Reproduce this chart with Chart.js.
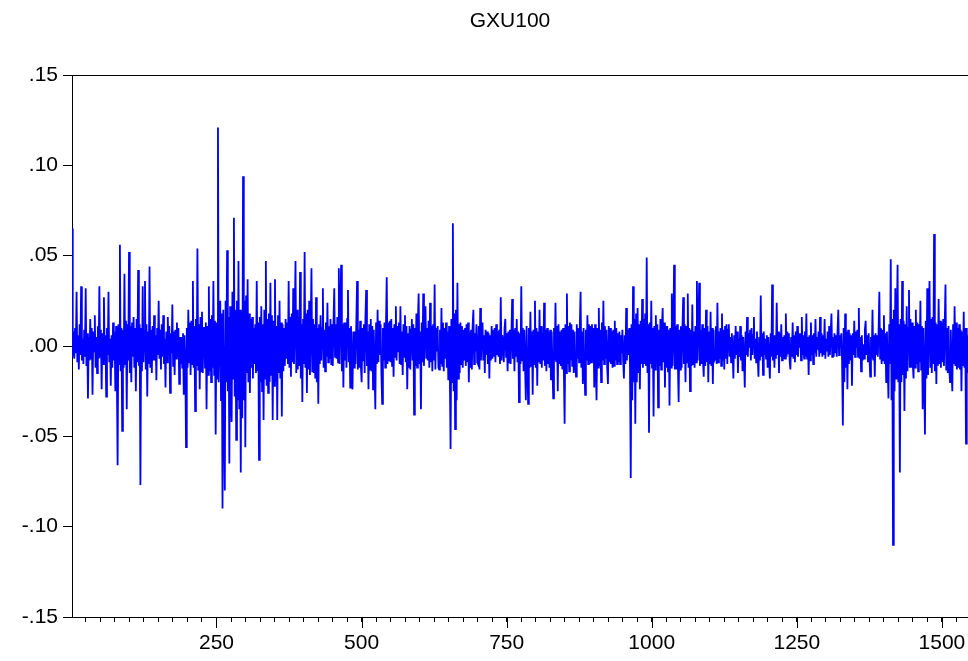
<!DOCTYPE html>
<html>
<head>
<meta charset="utf-8">
<title>GXU100</title>
<script src="https://cdn.jsdelivr.net/npm/chart.js@4.4.1/dist/chart.umd.min.js"></script>
<style>
  html, body { margin: 0; padding: 0; background: #fff; overflow: hidden; }
</style>
</head>
<body>
<canvas id="chart" width="968" height="661"></canvas>
<script>
// values: a peak reading followed by two readings inside the dense band,
// evenly spaced readings (about 1.31 observations apart) starting at obs 1
const seriesName = "GXU100";
const firstObs = 1;
const obsStep = 1.31;

const part1 = [0.065,-0.006,0.008, -0.007,0.010,-0.004, 0.030,-0.009,0.006, -0.013,0.012,-0.005, 0.033,-0.008,0.004, -0.010,0.009,-0.006,
  0.032,-0.011,0.007, -0.029,0.005,-0.008, 0.015,-0.007,0.010, -0.027,0.008,-0.003, 0.017,-0.012,0.005, -0.015,0.011,-0.007,
  0.033,-0.006,0.009, -0.024,0.007,-0.010, 0.027,-0.004,0.006, -0.028,0.010,-0.005, 0.030,-0.009,0.004, -0.022,0.006,-0.012,
  0.013,-0.008,0.008, -0.025,0.011,-0.015, -0.066,0.012,-0.010, 0.056,-0.014,0.010, -0.047,0.009,-0.012, 0.040,-0.010,0.014,
  -0.035,0.012,-0.008, 0.052,-0.015,0.011, -0.020,0.013,-0.006, 0.016,-0.012,0.010, -0.025,0.015,-0.009, 0.042,-0.011,0.012,
  -0.077,0.010,-0.014, 0.033,-0.009,0.006, 0.036,-0.013,0.012, -0.028,0.008,-0.010, 0.044,-0.012,0.009, -0.015,0.011,-0.008];
const part2 = [0.017,-0.008,0.006, -0.019,0.010,-0.005, 0.025,-0.007,0.009, -0.013,0.012,-0.006, 0.017,-0.010,0.004, -0.023,0.008,-0.009,
  0.016,-0.005,0.011, -0.026,0.007,-0.004, 0.023,-0.011,0.008, -0.016,0.009,-0.007, 0.013,-0.006,0.010, -0.021,0.005,-0.010,
  0.005,-0.012,0.007, -0.027,0.006,-0.008, -0.056,0.010,-0.012, 0.020,-0.009,0.013, -0.016,0.014,-0.010, 0.036,-0.012,0.011,
  -0.036,0.015,-0.011, 0.054,-0.013,0.012, -0.024,0.016,-0.014, 0.019,-0.015,0.010, 0.010,-0.012,0.013, -0.035,0.011,-0.016,
  0.033,-0.014,0.015, -0.020,0.017,-0.012, 0.036,-0.016,0.014, -0.049,0.013,-0.018, 0.121,-0.020,0.015, 0.025,-0.030,0.018,
  -0.090,0.020,-0.035, -0.080,0.025,-0.020, 0.053,-0.025,0.016, -0.065,0.022,-0.030, -0.042,0.030,-0.018, 0.071,-0.028,0.020];
const part3 = [-0.052,0.025,-0.030, 0.047,-0.035,0.020, -0.070,0.018,-0.040, 0.094,-0.030,0.025, -0.056,0.028,-0.015, 0.037,-0.020,0.018,
  -0.026,0.015,-0.012, 0.016,-0.018,0.010, -0.010,0.012,-0.015, 0.036,-0.014,0.013, -0.063,0.016,-0.020, 0.022,-0.025,0.012,
  -0.041,0.020,-0.018, 0.047,-0.022,0.015, -0.026,0.018,-0.020, 0.035,-0.016,0.017, -0.041,0.014,-0.022, 0.037,-0.020,0.011,
  -0.041,0.017,-0.015, 0.025,-0.018,0.013, -0.039,0.012,-0.014, 0.010,-0.011,0.015, -0.007,0.013,-0.010, 0.036,-0.012,0.016,
  -0.017,0.018,-0.009, 0.032,-0.010,0.014, 0.047,-0.015,0.020, -0.013,0.016,-0.011, 0.041,-0.018,0.012, -0.031,0.015,-0.010,
  0.052,-0.012,0.018, -0.026,0.020,-0.013, 0.025,-0.016,0.011, 0.043,-0.014,0.015, -0.015,0.012,-0.018, 0.027,-0.020,0.010];
const part4 = [-0.032,0.012,-0.010, 0.017,-0.008,0.010, 0.032,-0.012,0.009, -0.014,0.013,-0.006, 0.024,-0.009,0.011, -0.007,0.015,-0.010,
  0.012,-0.011,0.014, 0.032,-0.006,0.012, -0.007,0.016,-0.009, 0.043,-0.010,0.018, 0.045,-0.014,0.012, -0.023,0.013,-0.008,
  0.013,-0.012,0.015, 0.031,-0.009,0.010, -0.023,0.011,-0.014, -0.024,0.008,-0.012, 0.008,-0.010,0.013, 0.036,-0.013,0.009,
  -0.012,0.014,-0.011, -0.020,0.010,-0.008, 0.012,-0.015,0.016, 0.031,-0.011,0.008, -0.024,0.012,-0.013, 0.015,-0.014,0.011,
  -0.024,0.009,-0.012, -0.035,0.013,-0.010, 0.020,-0.009,0.014, -0.005,0.012,-0.015, -0.032,0.010,-0.008, 0.013,-0.012,0.011,
  0.038,-0.010,0.013, -0.008,0.014,-0.009, 0.015,-0.011,0.010, -0.017,0.012,-0.006, 0.022,-0.008,0.011, -0.003,0.013,-0.010];
const part5 = [0.022,-0.010,0.008, -0.016,0.012,-0.006, 0.017,-0.009,0.011, -0.024,0.007,-0.012, 0.011,-0.013,0.009, 0.015,-0.008,0.012,
  -0.038,0.010,-0.011, 0.018,-0.012,0.014, 0.029,-0.010,0.008, -0.035,0.013,-0.009, 0.029,-0.011,0.012, 0.022,-0.007,0.010,
  -0.008,0.014,-0.012, 0.024,-0.009,0.011, -0.014,0.012,-0.008, 0.034,-0.013,0.010, -0.003,0.011,-0.012, -0.013,0.009,-0.010,
  0.021,-0.011,0.013, -0.014,0.010,-0.007, 0.013,-0.012,0.008, -0.019,0.011,-0.014, -0.057,0.015,-0.020, 0.068,-0.025,0.018,
  -0.046,0.020,-0.030, 0.035,-0.018,0.012, -0.015,0.013,-0.010, 0.011,-0.012,0.009, -0.008,0.010,-0.011, 0.012,-0.009,0.013,
  -0.020,0.008,-0.012, 0.009,-0.013,0.011, 0.020,-0.010,0.007, -0.003,0.012,-0.009, -0.010,0.011,-0.013, 0.021,-0.008,0.010];
const part6 = [0.013,-0.008,0.006, -0.015,0.009,-0.005, 0.008,-0.010,0.007, -0.018,0.006,-0.008, 0.011,-0.007,0.009, -0.006,0.010,-0.009,
  0.012,-0.005,0.008, -0.006,0.009,-0.010, 0.027,-0.008,0.006, 0.002,-0.009,0.010, 0.015,-0.006,0.007, -0.014,0.008,-0.009,
  0.009,-0.010,0.006, 0.026,-0.007,0.009, -0.014,0.010,-0.006, 0.015,-0.009,0.008, -0.031,0.007,-0.010, 0.033,-0.008,0.010,
  -0.014,0.009,-0.012, -0.030,0.011,-0.009, -0.032,0.010,-0.012, 0.019,-0.011,0.008, -0.027,0.009,-0.010, 0.025,-0.012,0.010,
  -0.022,0.008,-0.009, 0.020,-0.010,0.011, -0.012,0.007,-0.008, 0.024,-0.011,0.009, -0.014,0.010,-0.010, 0.008,-0.012,0.009,
  -0.019,0.008,-0.011, -0.029,0.010,-0.008, 0.024,-0.009,0.011, -0.025,0.012,-0.010, 0.008,-0.011,0.009, -0.013,0.010,-0.012];
const part7 = [-0.043,0.012,-0.015, 0.029,-0.010,0.011, -0.014,0.013,-0.008, 0.012,-0.011,0.009, -0.015,0.008,-0.010, -0.017,0.012,-0.007,
  0.010,-0.009,0.011, 0.030,-0.012,0.008, -0.021,0.010,-0.011, -0.027,0.009,-0.008, 0.017,-0.010,0.012, -0.010,0.011,-0.009,
  0.012,-0.008,0.010, -0.023,0.012,-0.010, -0.030,0.010,-0.012, 0.021,-0.011,0.009, -0.020,0.013,-0.008, 0.025,-0.010,0.011,
  -0.007,0.009,-0.012, -0.021,0.011,-0.009, 0.010,-0.010,0.008, -0.012,0.009,-0.011, 0.014,-0.008,0.010, -0.010,0.007,-0.009,
  0.008,-0.010,0.006, -0.004,0.009,-0.008, -0.018,0.006,-0.010, 0.021,-0.008,0.009, -0.005,0.010,-0.012, -0.073,0.012,-0.030,
  0.033,-0.020,0.015, -0.043,0.018,-0.020, 0.021,-0.015,0.012, -0.024,0.014,-0.010, 0.026,-0.012,0.015, -0.010,0.018,-0.011];
const part8 = [0.049,-0.015,0.012, -0.048,0.013,-0.010, 0.025,-0.012,0.010, -0.039,0.011,-0.013, 0.017,-0.010,0.012, -0.034,0.009,-0.011,
  0.015,-0.013,0.010, 0.021,-0.009,0.013, -0.023,0.011,-0.012, 0.011,-0.014,0.009, -0.033,0.010,-0.012, 0.029,-0.011,0.008,
  0.045,-0.013,0.011, -0.013,0.012,-0.010, -0.031,0.009,-0.013, 0.011,-0.012,0.010, 0.027,-0.010,0.012, -0.020,0.011,-0.009,
  0.029,-0.012,0.010, -0.025,0.009,-0.011, 0.023,-0.010,0.008, -0.012,0.011,-0.009, 0.036,-0.008,0.012, 0.035,-0.011,0.009,
  -0.010,0.012,-0.008, -0.017,0.010,-0.011, 0.020,-0.009,0.011, -0.020,0.008,-0.010, 0.019,-0.011,0.010, -0.021,0.009,-0.008,
  -0.007,0.011,-0.010, 0.024,-0.009,0.008, -0.007,0.010,-0.011, 0.018,-0.008,0.009, -0.013,0.011,-0.007, 0.012,-0.010,0.009];
const part9 = [0.012,-0.006,0.005, -0.009,0.007,-0.004, -0.018,0.006,-0.007, 0.011,-0.005,0.008, -0.015,0.004,-0.006, 0.011,-0.008,0.006,
  -0.014,0.005,-0.007, -0.023,0.008,-0.005, 0.016,-0.006,0.007, -0.001,0.009,-0.008, 0.010,-0.005,0.006, 0.016,-0.007,0.004,
  -0.009,0.008,-0.006, -0.017,0.005,-0.008, 0.028,-0.006,0.007, -0.016,0.008,-0.005, 0.004,-0.007,0.006, -0.012,0.005,-0.008,
  -0.018,0.007,-0.006, 0.034,-0.008,0.006, -0.012,0.006,-0.007, 0.024,-0.005,0.008, -0.015,0.007,-0.006, 0.012,-0.008,0.005,
  -0.007,0.006,-0.007, 0.018,-0.006,0.008, -0.004,0.007,-0.008, -0.013,0.005,-0.006, 0.013,-0.007,0.006, -0.009,0.008,-0.005,
  0.011,-0.006,0.007, -0.001,0.007,-0.008, 0.016,-0.005,0.006, -0.007,0.008,-0.006, 0.018,-0.007,0.005, -0.016,0.006,-0.008];
const part10 = [0.013,-0.005,0.006, -0.010,0.007,-0.004, 0.015,-0.006,0.005, -0.002,0.008,-0.006, 0.016,-0.004,0.007, -0.006,0.006,-0.005,
  0.015,-0.007,0.004, -0.003,0.008,-0.006, 0.011,-0.005,0.007, 0.018,-0.006,0.005, -0.006,0.007,-0.004, 0.006,-0.006,0.008,
  0.020,-0.005,0.006, -0.001,0.007,-0.008, -0.044,0.010,-0.020, 0.018,-0.012,0.008, -0.024,0.009,-0.010, 0.007,-0.008,0.006,
  -0.022,0.007,-0.005, 0.014,-0.006,0.008, -0.001,0.009,-0.006, 0.021,-0.007,0.005, -0.014,0.006,-0.008, 0.001,-0.007,0.009,
  0.014,-0.005,0.006, -0.009,0.007,-0.006, -0.017,0.005,-0.007, 0.020,-0.008,0.006, -0.017,0.007,-0.005, 0.006,-0.006,0.008,
  0.030,-0.007,0.010, -0.010,0.009,-0.008, 0.017,-0.010,0.007, -0.020,0.008,-0.012, -0.029,0.012,-0.010, 0.048,-0.030,0.015];
const part11 = [-0.110,0.020,-0.025, 0.032,-0.018,0.015, 0.045,-0.020,0.012, -0.070,0.015,-0.020, 0.036,-0.016,0.014, -0.036,0.012,-0.018,
  0.022,-0.014,0.010, 0.031,-0.012,0.015, -0.012,0.013,-0.010, -0.018,0.011,-0.012, 0.020,-0.010,0.013, -0.014,0.012,-0.009,
  0.025,-0.013,0.011, -0.035,0.010,-0.015, -0.049,0.014,-0.018, 0.032,-0.016,0.012, 0.036,-0.012,0.015, -0.015,0.016,-0.010,
  0.062,-0.014,0.013, -0.021,0.012,-0.011, 0.026,-0.010,0.014, -0.012,0.013,-0.009, 0.015,-0.011,0.012, 0.034,-0.013,0.010,
  -0.015,0.011,-0.012, -0.020,0.009,-0.013, -0.025,0.012,-0.010, 0.022,-0.011,0.013, -0.013,0.010,-0.012, 0.012,-0.013,0.009,
  -0.025,0.008,-0.011, 0.019,-0.012,0.010, -0.054,0.010,-0.015, 0.006,-0.010,0.008];

const yTicks = [-0.15, -0.10, -0.05, 0.00, 0.05, 0.10, 0.15];
const xLabels = [250, 500, 750, 1000, 1250, 1500];
const xMinorStep = 25;
const xMin = 1;
const xMax = 1545;

const returns = [].concat(part1, part2, part3, part4, part5, part6, part7, part8, part9, part10, part11);
const points = returns.map((v, i) => ({ x: firstObs + i * obsStep, y: v }));

const fontFamily = '"Liberation Sans", Arial, sans-serif';

function fmtY(v) {
  const r = Math.round(v * 100);
  return (r < 0 ? "-" : "") + "." + String(Math.abs(r)).padStart(2, "0");
}

// title, top frame line and the longer major ticks
const eviewsLook = {
  id: "eviewsLook",
  afterDraw(chart) {
    const ctx = chart.ctx;
    const area = chart.chartArea;
    const xs = chart.scales.x;
    ctx.save();
    ctx.strokeStyle = "#000";
    ctx.lineWidth = 1;
    ctx.beginPath();
    ctx.moveTo(area.left, area.top + 0.5);
    ctx.lineTo(area.right, area.top + 0.5);
    xLabels.forEach((v) => {
      const px = Math.round(xs.getPixelForValue(v)) + 0.5;
      ctx.moveTo(px, area.bottom);
      ctx.lineTo(px, area.bottom + 11);
    });
    ctx.stroke();

    ctx.fillStyle = "#000";
    ctx.font = "21px " + fontFamily;
    ctx.textAlign = "center";
    ctx.textBaseline = "middle";
    ctx.fillText(seriesName, 510, 21);
    ctx.restore();
  }
};

new Chart(document.getElementById("chart"), {
  type: "line",
  data: {
    datasets: [
      {
        label: seriesName,
        data: points,
        borderColor: "#0000ff",
        borderWidth: 1.8,
        pointRadius: 0,
        tension: 0,
        fill: false,
      },
    ],
  },
  options: {
    responsive: false,
    animation: false,
    devicePixelRatio: 1,
    layout: { padding: { top: 75, left: 0, right: 0, bottom: 0 } },
    plugins: {
      legend: { display: false },
      tooltip: { enabled: false },
      title: { display: false },
    },
    scales: {
      x: {
        type: "linear",
        min: xMin,
        max: xMax,
        afterBuildTicks: (axis) => {
          const t = [];
          for (let v = xMinorStep; v <= xMax; v += xMinorStep) t.push({ value: v });
          axis.ticks = t;
        },
        afterFit: (scale) => { scale.height = 44; },
        ticks: {
          autoSkip: false,
          maxRotation: 0,
          padding: 9,
          color: "#000",
          font: { family: fontFamily, size: 21 },
          callback: (value) => (xLabels.includes(value) ? String(value) : ""),
        },
        grid: { drawOnChartArea: false, drawTicks: true, tickLength: 5, color: "#000" },
        border: { display: true, color: "#000", width: 1 },
      },
      y: {
        min: -0.15,
        max: 0.15,
        afterBuildTicks: (axis) => { axis.ticks = yTicks.map((v) => ({ value: v })); },
        afterFit: (scale) => { scale.width = 72; },
        ticks: {
          padding: 5,
          color: "#000",
          font: { family: fontFamily, size: 21 },
          callback: (value) => fmtY(value),
        },
        grid: { drawOnChartArea: false, drawTicks: true, tickLength: 9, color: "#000" },
        border: { display: true, color: "#000", width: 1 },
      },
    },
  },
  plugins: [eviewsLook],
});
</script>
</body>
</html>
